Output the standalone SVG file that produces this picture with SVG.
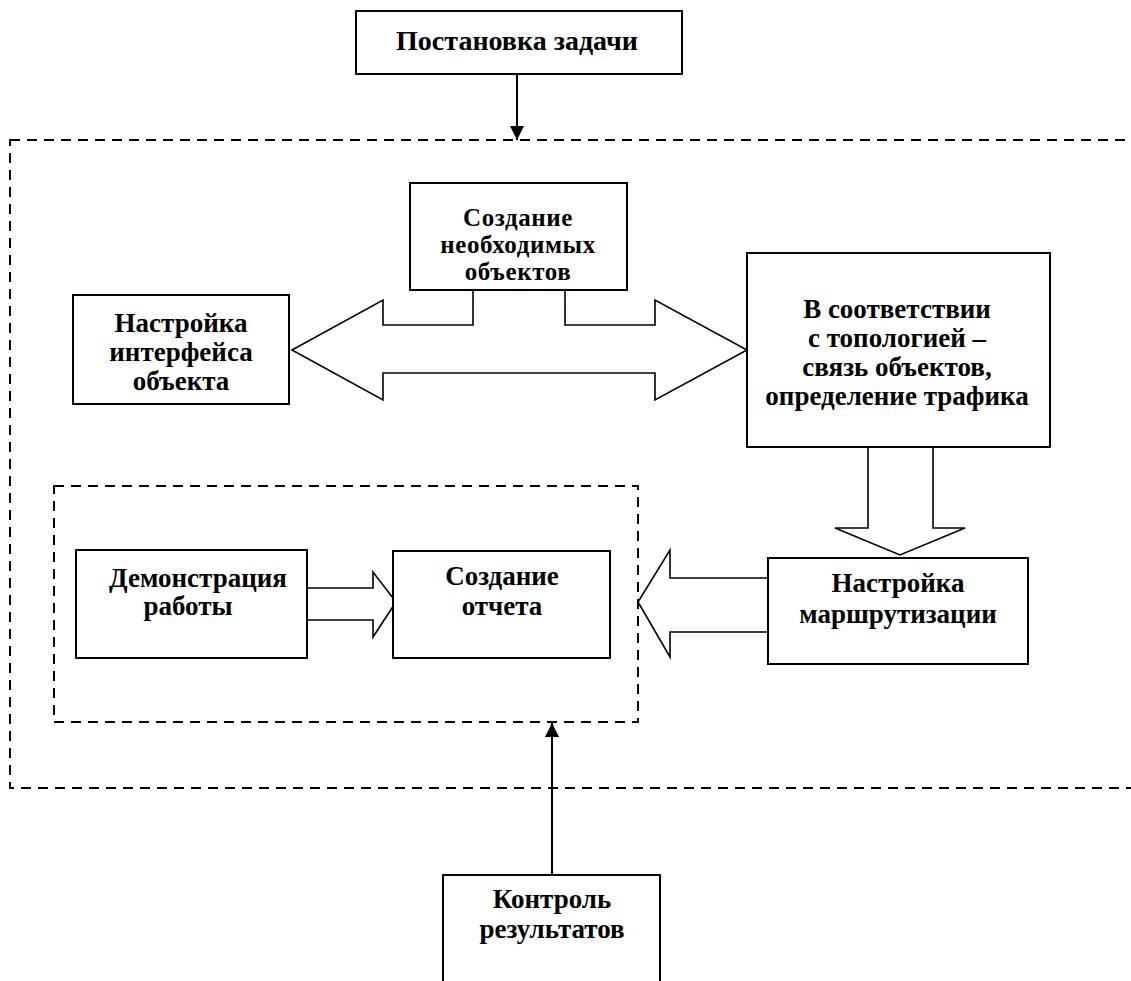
<svg xmlns="http://www.w3.org/2000/svg" width="1131" height="981" viewBox="0 0 1131 981">
  <style>
    .box { fill: #fff; stroke: #000; stroke-width: 2; }
    .frame { fill: none; stroke: #000; stroke-width: 2; stroke-dasharray: 10 7; }
    .block { fill: #fff; stroke: #000; stroke-width: 1.6; stroke-linejoin: miter; }
    .line { fill: none; stroke: #000; stroke-width: 2; }
    text { font-family: "Liberation Serif", "Times New Roman", serif; font-weight: bold; font-size: 27px; fill: #000; text-anchor: middle; }
    .tight { font-size: 25px; letter-spacing: 0.6px; }
  </style>
  <defs>
    <marker id="arrowhead" viewBox="0 0 12 12" refX="12" refY="6" markerWidth="14" markerHeight="14" markerUnits="userSpaceOnUse" orient="auto">
      <path d="M0,0 L12,6 L0,12 Z" fill="#000"/>
    </marker>
  </defs>

  <rect width="1131" height="981" fill="#fff"/>

  <!-- dashed frames -->
  <g id="frames">
    <rect class="frame" x="10" y="140" width="1140" height="648"/>
    <rect class="frame" x="54" y="486" width="584" height="236"/>
  </g>

  <!-- connectors -->
  <g id="connectors">
    <line class="line" x1="517" y1="74" x2="517" y2="140" marker-end="url(#arrowhead)"/>
    <line class="line" x1="552" y1="875" x2="552" y2="723" marker-end="url(#arrowhead)"/>
    <!-- double block arrow from object creation -->
    <path class="block" d="M292,350 L383,300 L383,325 L473,325 L473,290 L565,290 L565,325 L655,325 L655,300 L747,350 L655,400 L655,373 L383,373 L383,400 Z"/>
    <!-- down block arrow -->
    <path class="block" d="M868,446 L868,528 L835,528 L900,555 L965,528 L933,528 L933,446 Z"/>
    <!-- left block arrow to report -->
    <path class="block" d="M768,578 L670,578 L670,550 L638,602 L670,657 L670,632 L768,632 Z"/>
    <!-- right block arrow from demonstration -->
    <path class="block" d="M307,588 L373,588 L373,572 L396,602 L373,637 L373,620 L307,620 Z"/>
  </g>

  <g id="task">
    <rect class="box" x="356" y="11" width="326" height="63"/>
    <text x="517" y="50" style="font-size:28px">Постановка задачи</text>
  </g>

  <g id="create-objects">
    <rect class="box" x="410" y="183" width="217" height="107"/>
    <text class="tight" x="518" y="226">Создание</text>
    <text class="tight" x="518" y="253">необходимых</text>
    <text class="tight" x="518" y="280">объектов</text>
  </g>

  <g id="interface">
    <rect class="box" x="73" y="295" width="216" height="109"/>
    <text x="181" y="332">Настройка</text>
    <text x="181" y="361">интерфейса</text>
    <text x="181" y="390">объекта</text>
  </g>

  <g id="topology">
    <rect class="box" x="747" y="253" width="303" height="194"/>
    <text x="897" y="318">В соответствии</text>
    <text x="897" y="347">с топологией –</text>
    <text x="897" y="376">связь объектов,</text>
    <text x="897" y="405">определение трафика</text>
  </g>

  <g id="routing">
    <rect class="box" x="768" y="558" width="260" height="106"/>
    <text x="898" y="592">Настройка</text>
    <text x="898" y="623">маршрутизации</text>
  </g>

  <g id="demo">
    <rect class="box" x="76" y="550" width="231" height="108"/>
    <text x="198" y="587">Демонстрация</text>
    <text x="188" y="615">работы</text>
  </g>

  <g id="report">
    <rect class="box" x="393" y="551" width="217" height="107"/>
    <text x="502" y="585">Создание</text>
    <text x="502" y="615">отчета</text>
  </g>

  <g id="control">
    <rect class="box" x="443" y="875" width="217" height="120"/>
    <text x="552" y="908">Контроль</text>
    <text x="552" y="938">результатов</text>
  </g>
</svg>
